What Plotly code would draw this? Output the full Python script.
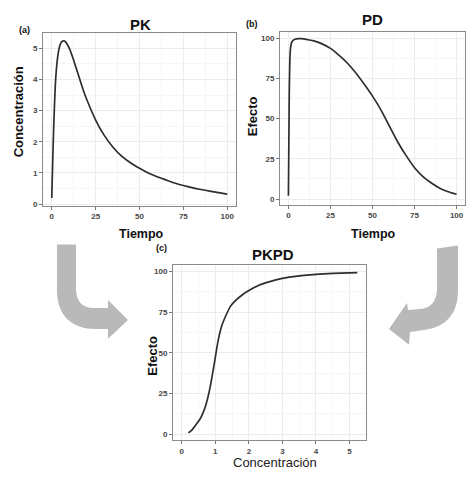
import plotly.graph_objects as go

W, H = 468, 477

# ---------------- data ----------------
pk_time = [0, 0.5, 1, 1.5, 2, 3, 4, 5, 6, 7, 8, 10, 12, 14, 16, 18, 20, 25, 30, 35,
           40, 45, 50, 55, 60, 65, 70, 75, 80, 85, 90, 95, 100]
pk_conc = [0.2, 1.3, 2.3, 3.1, 3.8, 4.55, 4.95, 5.15, 5.23, 5.24, 5.2, 5.0, 4.7, 4.35,
           4.0, 3.65, 3.35, 2.7, 2.2, 1.82, 1.53, 1.32, 1.15, 1.0, 0.88, 0.78, 0.68,
           0.6, 0.53, 0.47, 0.42, 0.37, 0.32]

pd_time = [0, 0.5, 1, 1.5, 2, 3, 4, 6, 8, 10, 12, 15, 20, 25, 30, 35, 40, 45, 50, 55,
           60, 65, 70, 75, 80, 85, 90, 95, 100]
pd_effect = [2, 65, 90, 95.5, 97.5, 98.8, 99.4, 99.8, 99.7, 99.4, 99.0, 98.4, 96.5,
             93.7, 89.5, 84.6, 78.5, 71.5, 64, 55.5, 45.5, 35.5, 27, 19.5, 14, 10,
             6.8, 4.6, 3]

pkpd_conc = [0.2, 0.3, 0.44, 0.55, 0.64, 0.72, 0.79, 0.89, 0.99, 1.08, 1.2, 1.33,
             1.45, 1.6, 1.8, 2.0, 2.3, 2.6, 3.0, 3.5, 4.0, 4.5, 5.0, 5.23]
pkpd_effect = [0.8, 2.5, 6.3, 9.5, 13.4, 18, 23.5, 33.7, 45.8, 57, 67, 73.5, 78.5,
               82, 85.5, 88.2, 91.5, 93.5, 95.7, 97.2, 98.2, 98.8, 99.1, 99.2]

time_ticks = [0, 25, 50, 75, 100]
conc_ticks = [0, 1, 2, 3, 4, 5]
effect_ticks = [0, 25, 50, 75, 100]

# ---------------- helpers ----------------
FONT = "Liberation Sans, Arial, sans-serif"
LINE = dict(color="#2e2e2e", width=1.7, shape="spline", smoothing=0.5)


def px(x, y):
    return f"{x / W:.5f},{1 - y / H:.5f}"


def dom_x(a, b):
    return [a / W, b / W]


def dom_y(top, bottom):
    return [1 - bottom / H, 1 - top / H]


def axis(domain, rng, tickvals, minor_dtick, anchor):
    return dict(
        domain=domain, range=rng, anchor=anchor,
        tickvals=tickvals, ticktext=[str(v) for v in tickvals],
        showline=True, mirror=True, linecolor="#8a8a8a", linewidth=1,
        ticks="outside", ticklen=3, tickcolor="#777777", tickwidth=1,
        tickfont=dict(family=FONT, size=8, color="#474747", weight="bold"),
        showgrid=True, gridcolor="#ececec", gridwidth=1, zeroline=False,
        minor=dict(dtick=minor_dtick, showgrid=True, gridcolor="#f6f6f6"),
        fixedrange=True,
    )


fig = go.Figure()
fig.add_trace(go.Scatter(x=pk_time, y=pk_conc, mode="lines", line=LINE,
                         xaxis="x", yaxis="y", showlegend=False))
fig.add_trace(go.Scatter(x=pd_time, y=pd_effect, mode="lines", line=LINE,
                         xaxis="x2", yaxis="y2", showlegend=False))
fig.add_trace(go.Scatter(x=pkpd_conc, y=pkpd_effect, mode="lines", line=LINE,
                         xaxis="x3", yaxis="y3", showlegend=False))

layout = dict(
    width=W, height=H,
    margin=dict(l=0, r=0, t=0, b=0),
    paper_bgcolor="white", plot_bgcolor="white",
    showlegend=False,
    xaxis=axis(dom_x(43, 236), [-5, 105], time_ticks, 12.5, "y"),
    yaxis=axis(dom_y(33, 207), [-0.05, 5.5], conc_ticks, 0.5, "x"),
    xaxis2=axis(dom_x(280, 465), [-5, 105], time_ticks, 12.5, "y2"),
    yaxis2=axis(dom_y(32, 206), [-3.5, 104], effect_ticks, 12.5, "x2"),
    xaxis3=axis(dom_x(173, 366), [-0.26, 5.49], conc_ticks, 0.5, "y3"),
    yaxis3=axis(dom_y(267, 443), [-3.7, 103.7], effect_ticks, 12.5, "x3"),
)
fig.update_layout(**layout)


def note(text, x, y, size, bold=True, angle=0, color="#111111"):
    fig.add_annotation(
        text=text, x=x / W, y=1 - y / H, xref="paper", yref="paper",
        xanchor="center", yanchor="middle", showarrow=False, textangle=angle,
        font=dict(family=FONT, size=size, color=color,
                  weight="bold" if bold else "normal"),
    )


# panel titles and labels
note("(a)", 24.5, 30, 9)
note("PK", 140, 25, 15)
note("(b)", 252, 24, 9)
note("PD", 372, 20, 15)
note("(c)", 161.5, 250, 9)
note("PKPD", 273, 256, 15)

# axis titles
note("Concentración", 18, 113, 13, angle=-90)
note("Tiempo", 141, 235, 12.5)
note("Efecto", 252, 117, 13, angle=-90)
note("Tiempo", 373.5, 235, 12.5)
note("Efecto", 153, 358, 13, angle=-90)
note("Concentración", 275, 465, 13, bold=False, color="#222222")

# big grey curved arrows
ARROW = "#b9b9b9"
left_arrow = (
    f"M {px(57, 246)} L {px(76, 246)} L {px(76, 290)} "
    f"C {px(76, 303)} {px(82, 310)} {px(94, 310)} "
    f"L {px(108, 310)} L {px(108, 302)} L {px(128, 322)} L {px(108, 341)} "
    f"L {px(108, 331)} L {px(96, 331)} "
    f"C {px(72, 331)} {px(57, 318)} {px(57, 292)} Z"
)
right_arrow = (
    f"M {px(458, 247)} L {px(437, 250)} L {px(437, 290)} "
    f"C {px(437, 303)} {px(431, 310)} {px(420, 311)} "
    f"L {px(408, 312)} L {px(407, 305)} L {px(389, 331)} L {px(409, 347)} "
    f"L {px(410, 334)} L {px(424, 332)} "
    f"C {px(446, 329)} {px(458, 316)} {px(458, 292)} Z"
)
for path in (left_arrow, right_arrow):
    fig.add_shape(type="path", path=path, xref="paper", yref="paper",
                  fillcolor=ARROW, line=dict(width=0), layer="above")

fig.write_html("out.html",
               config={"displayModeBar": False, "staticPlot": True},
               post_script="document.body.style.margin='0';"
                           "document.body.style.overflow='hidden';")
